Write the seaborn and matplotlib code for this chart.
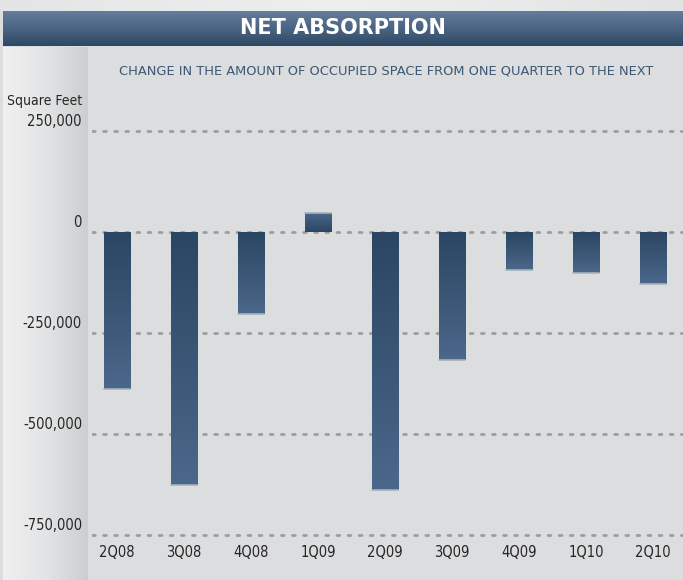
import numpy as np
import pandas as pd
import matplotlib
matplotlib.use("Agg")
import matplotlib.pyplot as plt
import seaborn as sns
from matplotlib.colors import LinearSegmentedColormap

# chart data
quarters = ["2Q08", "3Q08", "4Q08", "1Q09", "2Q09", "3Q09", "4Q09", "1Q10", "2Q10"]
absorption = [-388000, -627000, -203000, 47000, -639000, -317000, -94000, -101000, -129000]
y_ticks = [250000, 0, -250000, -500000, -750000]
y_tick_labels = ["250,000", "0", "-250,000", "-500,000", "-750,000"]

sns.set_theme(style="white")
plt.rcParams["font.family"] = ["DejaVu Sans"]
plt.rcParams["font.stretch"] = "condensed"

W, H = 683, 580
bg = "#dcdddf"
fig = plt.figure(figsize=(W / 100, H / 100), dpi=100, facecolor=bg)

# top light strip
top = fig.add_axes([0, 1 - 11 / H, 1, 11 / H])
top.imshow(np.linspace(0, 1, 256)[None, :], aspect="auto",
           cmap=LinearSegmentedColormap.from_list("t", ["#e4e5e6", "#eeefef", "#e2e3e4"]))
top.axis("off")

# banner
ban = fig.add_axes([3 / W, 1 - 46 / H, (W - 3) / W, 35 / H])
ban.imshow(np.linspace(0, 1, 256)[:, None], aspect="auto",
           cmap=LinearSegmentedColormap.from_list("b", ["#667d9b", "#4a6483", "#2d4864"]))
ban.axis("off")
ban.text(0.5, 0.5, "NET ABSORPTION", transform=ban.transAxes, ha="center", va="center",
         color="white", fontsize=15, fontweight="bold", fontstretch="normal")

# left panel
lp = fig.add_axes([3 / W, 0, 85 / W, (H - 47) / H])
lp.imshow(np.linspace(0, 1, 256)[None, :], aspect="auto",
          cmap=LinearSegmentedColormap.from_list("l", ["#f0f0f1", "#e3e4e5", "#cdced0"]))
lp.axis("off")

# main axes
ax = fig.add_axes([92 / W, 1 - 545 / H, (W - 92) / W, 425 / H])
ax.patch.set_alpha(0)
df = pd.DataFrame({"quarter": quarters, "value": absorption})
sns.barplot(data=df, x="quarter", y="value", color="#3b5677", width=0.39, ax=ax,
            edgecolor="none", zorder=3)

for y in y_ticks:
    ax.axhline(y, color="#9c9c9c", linestyle=(0, (1, 3)), linewidth=2,
               dash_capstyle="round", zorder=1)

# gradient fill on each bar (dark at zero line, lighter at the far end)
cm_bar = LinearSegmentedColormap.from_list("bar", ["#2a4662", "#4b678a"])
for p in ax.patches:
    x0, y0 = p.get_x(), p.get_y()
    w, h = p.get_width(), p.get_height()
    yb, yt = min(y0, y0 + h), max(y0, y0 + h)
    grad = np.linspace(0, 1, 256)[:, None]
    if yb >= 0:
        grad = grad[::-1]
    im = ax.imshow(grad, aspect="auto", cmap=cm_bar, extent=[x0, x0 + w, yb, yt],
                   origin="upper", zorder=4)
    im.set_clip_path(p)
    ax.plot([x0, x0 + w], [yb, yb] if yb < 0 else [yt, yt], color="#a7b1bd", lw=1.2, zorder=5)

ax.set_xlim(-0.37, 8.45)
ax.set_ylim(-774750, 277200)
ax.set_yticks(y_ticks)
ax.set_yticklabels([])
ax.set_xlabel("")
ax.set_ylabel("")
ax.tick_params(axis="x", length=0, pad=0, labelsize=10.5, labelcolor="#262626")
ax.tick_params(axis="y", length=0)
for s in ax.spines.values():
    s.set_visible(False)

# y labels placed in the left panel
for y, lab in zip(y_ticks, y_tick_labels):
    ax.annotate(lab, xy=(0, y), xycoords=("figure fraction", "data"),
                xytext=(82, 2), textcoords="offset pixels", ha="right", va="bottom",
                fontsize=10.5, color="#262626")
fig.text(82 / W, 1 - 101 / H, "Square Feet", ha="right", va="center",
         fontsize=10, color="#262626")

fig.text(386 / W, 1 - 71 / H,
         "CHANGE IN THE AMOUNT OF OCCUPIED SPACE FROM ONE QUARTER TO THE NEXT",
         ha="center", va="center", fontsize=9.4, color="#3d5874", fontstretch="normal")

fig.savefig("out.png", dpi=100, facecolor=bg)
